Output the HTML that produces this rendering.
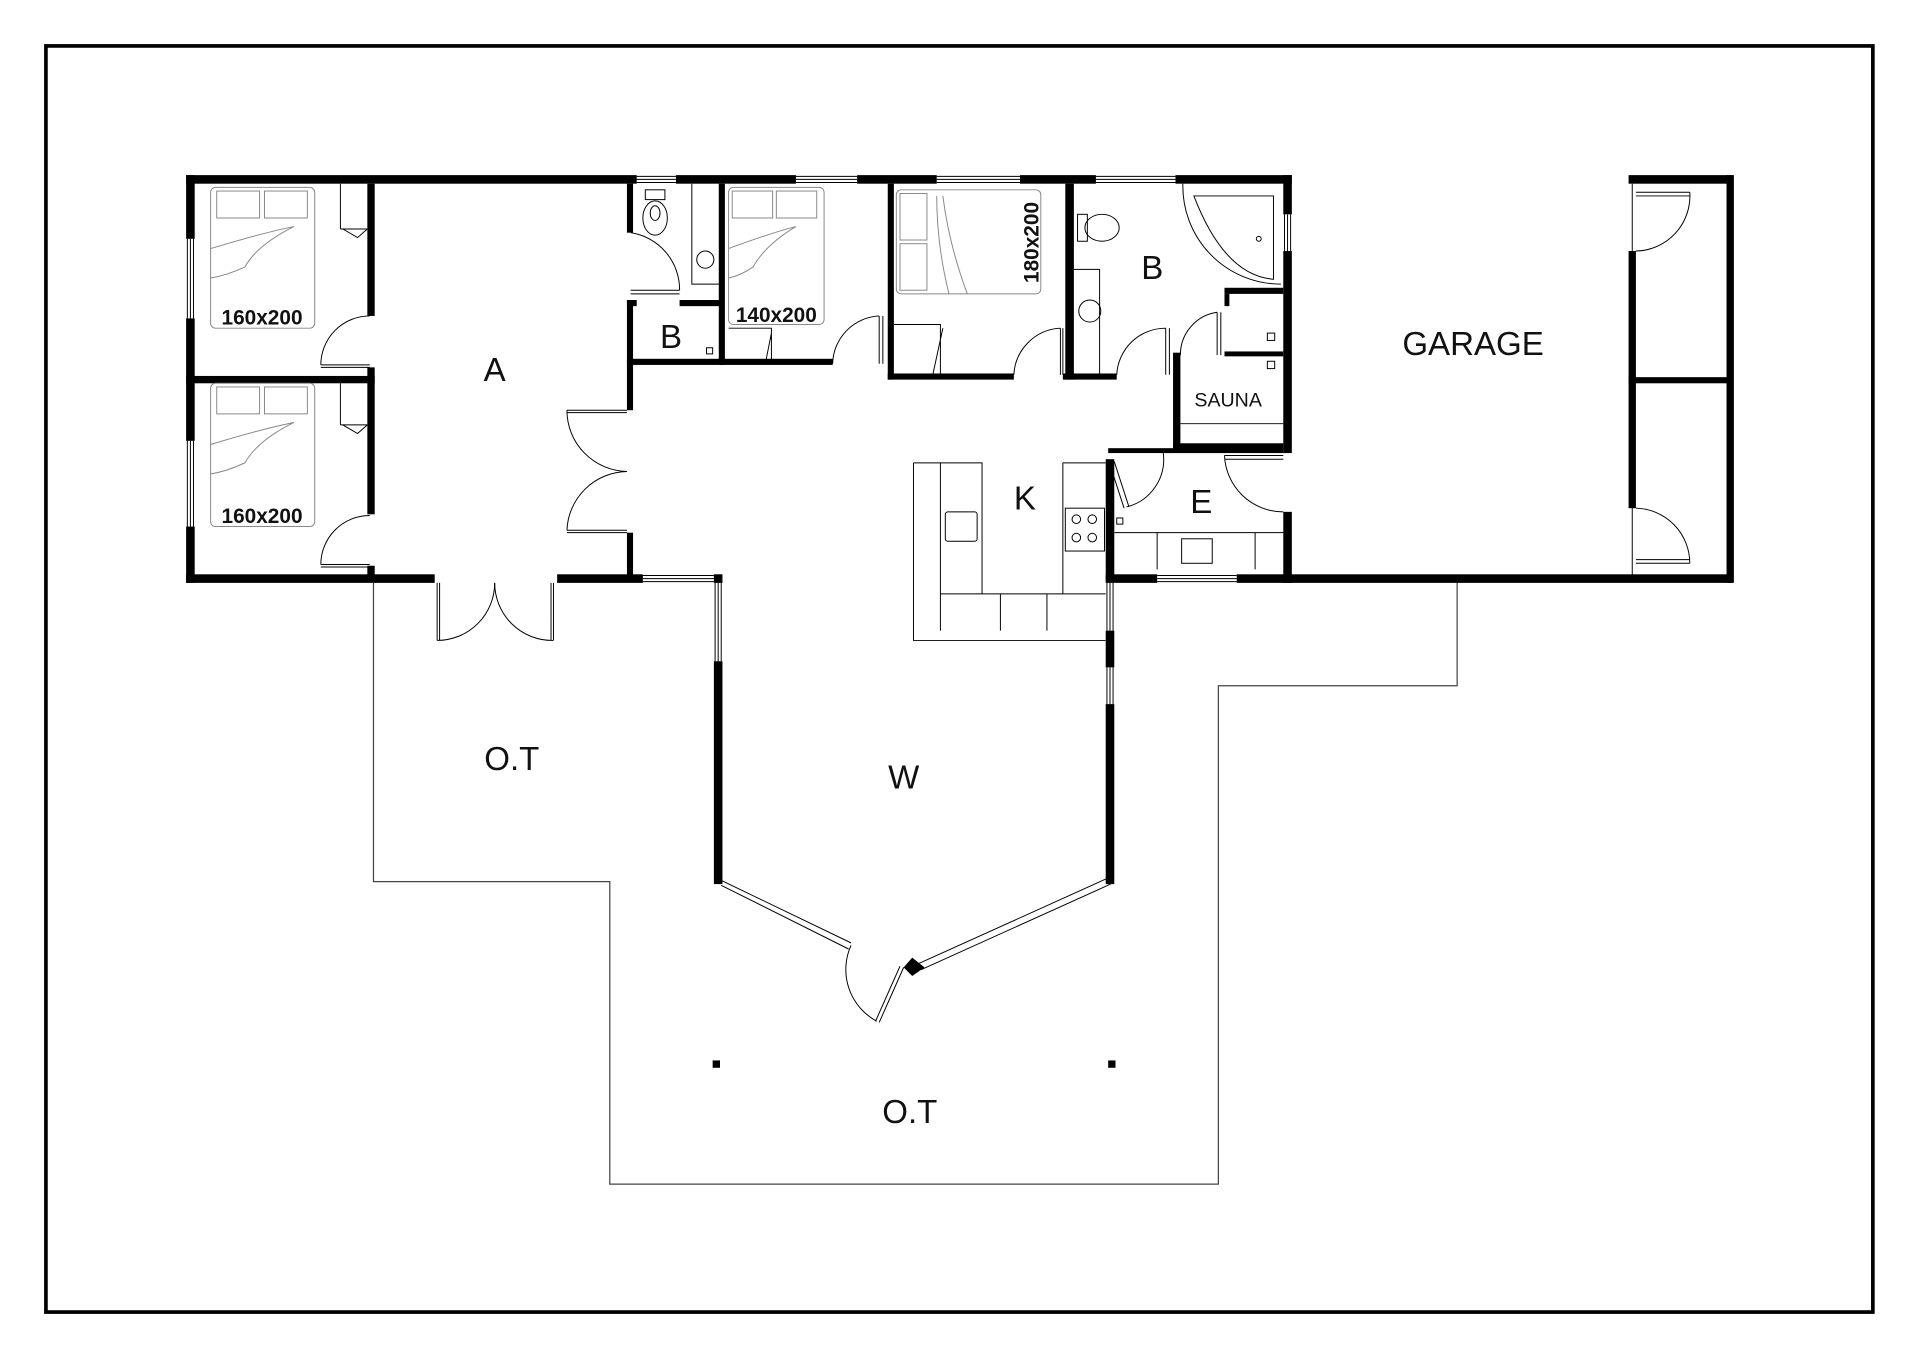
<!DOCTYPE html>
<html><head><meta charset="utf-8"><style>
html,body{margin:0;padding:0;background:#fff}
svg{display:block}
text{font-family:"Liberation Sans","DejaVu Sans",sans-serif;fill:#111}
</style></head><body>
<svg width="1920" height="1358" viewBox="0 0 1568 1109" xmlns="http://www.w3.org/2000/svg">
<rect x="0" y="0" width="1568" height="1109" fill="#fff"/>
<rect x="37.5" y="37.5" width="1492" height="1034" fill="none" stroke="#000" stroke-width="3"/>

<!-- terrace outline -->
<polyline points="305,476 305,720 498,720 498,967 995,967 995,560 1190,560 1190,476" fill="none" stroke="#444" stroke-width="1"/>

<g fill="#000">
<!-- top wall segments -->
<rect x="152" y="143" width="368" height="7"/>
<rect x="552" y="143" width="98" height="7"/>
<rect x="700" y="143" width="65" height="7"/>
<rect x="833" y="143" width="62" height="7"/>
<rect x="960" y="143" width="95" height="7"/>
<!-- left wall -->
<rect x="152" y="143" width="7" height="52"/>
<rect x="152" y="260" width="7" height="100"/>
<rect x="152" y="430" width="7" height="46"/>
<!-- bottom wall -->
<rect x="152" y="469" width="203" height="7"/>
<rect x="455" y="469" width="70" height="7"/>
<rect x="583" y="469" width="7" height="7"/>
<rect x="903" y="469" width="42" height="7"/>
<rect x="1010" y="469" width="405" height="7"/>
<!-- bedroom divider walls -->
<rect x="300" y="150" width="6" height="108"/>
<rect x="300" y="300" width="6" height="120"/>
<rect x="300" y="462" width="6" height="10"/>
<rect x="152" y="307" width="154" height="6"/>
<!-- A right wall -->
<rect x="512" y="150" width="5" height="40"/>
<rect x="512" y="245" width="5" height="90"/>
<rect x="512" y="435" width="5" height="36"/>
<!-- small bath / B -->
<rect x="512" y="245" width="8" height="5"/>
<rect x="555" y="245" width="35" height="5"/>
<rect x="587" y="150" width="5" height="148"/>
<rect x="512" y="293" width="168" height="5"/>
<!-- 180 bedroom -->
<rect x="725" y="150" width="5" height="160"/>
<rect x="725" y="305" width="103" height="5"/>
<rect x="870" y="150" width="7" height="160"/>
<rect x="868" y="305" width="44" height="5"/>
<!-- sauna -->
<rect x="958" y="288" width="6" height="78"/>
<rect x="1000" y="235" width="48" height="5"/>
<rect x="1000" y="240" width="4" height="10"/>
<rect x="1000" y="287" width="48" height="4"/>
<rect x="958" y="362" width="90" height="5"/>
<rect x="905" y="366" width="143" height="4"/>
<!-- house right wall -->
<rect x="1048" y="143" width="7" height="32"/>
<rect x="1048" y="205" width="7" height="165"/>
<rect x="1048" y="418" width="7" height="58"/>
<!-- kitchen wall -->
<rect x="903" y="375" width="7" height="100"/>
<!-- W walls -->
<rect x="583" y="540" width="7" height="182"/>
<rect x="903" y="515" width="7" height="30"/>
<rect x="903" y="575" width="7" height="147"/>
<polygon points="738,790 745,782 755,790 745,797"/>
<!-- garage -->
<rect x="1330" y="143" width="85" height="7"/>
<rect x="1330" y="205" width="6" height="210"/>
<rect x="1410" y="143" width="6" height="333"/>
<rect x="1330" y="308" width="85" height="5"/>
<rect x="582" y="866" width="6" height="6"/>
<rect x="905" y="866" width="6" height="6"/>
</g>

<g fill="none" stroke="#000" stroke-width="0.8">
<!-- windows top -->
<path d="M520 144H552M520 146.5H552M520 149H552"/>
<path d="M650 144H700M650 146.5H700M650 149H700"/>
<path d="M765 144H833M765 146.5H833M765 149H833"/>
<path d="M895 144H960M895 146.5H960M895 149H960"/>
<path d="M153 195V260M155.5 195V260M158 195V260"/>
<path d="M153 360V430M155.5 360V430M158 360V430"/>
<path d="M1049 175V205M1051.5 175V205M1054 175V205"/>
<path d="M525 470H583M525 472.5H583M525 475H583"/>
<path d="M945 470H1010M945 472.5H1010M945 475H1010"/>
<path d="M584 476V540M586.5 476V540M589 476V540"/>
<path d="M904 476V515M906.5 476V515M909 476V515"/>
<path d="M904 545V575M906.5 545V575M909 545V575"/>
<path d="M587 718L695 770M589 723L693 775"/>
<path d="M750 787L905 717M752 792L907 722"/>
<!-- W door -->
<path d="M738 790L718 835M735 789L715 834"/>
<path d="M695 772A48 48 0 0 0 716 834"/>
<!-- bedroom doors -->
<path d="M262 300H302M262 298H302M262 298A40 40 0 0 1 302 258"/>
<path d="M262 463H302M262 461H302M262 461A40 40 0 0 1 302 421"/>
<!-- A double doors -->
<path d="M463 335H512M463 337H512M463 335A50 50 0 0 0 512 385"/>
<path d="M463 435H512M463 433H512M463 433A50 50 0 0 1 512 385"/>
<!-- french doors -->
<path d="M357 476V523M359 476V523M357 523A47 47 0 0 0 404 476"/>
<path d="M450 476V523M452 476V523M452 523A47 47 0 0 1 404 476"/>
<!-- small bath door -->
<path d="M515 190A47 47 0 0 1 555 237M515 237H555M515 240H555"/>
<!-- 140 door -->
<path d="M718 258V297M721 258V297M680 297A40 40 0 0 1 718 258"/>
<!-- 180 door -->
<path d="M866 268V306M868 268V306M828 306A40 40 0 0 1 866 268"/>
<!-- bath door -->
<path d="M952 268V306M955 268V306M912 306A40 40 0 0 1 952 268"/>
<!-- sauna door -->
<path d="M994 255V290M997 255V290M964 290A35 35 0 0 1 994 255"/>
<!-- E doors -->
<path d="M906 378L918 415M910 377L922 414M920 414A40 40 0 0 0 950 370"/>
<path d="M1000 372H1048M1000 375H1048M1000 372A48 48 0 0 0 1048 418"/>
<!-- garage doors -->
<path d="M1336 157H1380M1336 160H1380M1380 157A45 45 0 0 1 1336 205M1333 150V205"/>
<path d="M1336 460H1380M1336 457H1380M1380 460A45 45 0 0 0 1336 415M1333 415V470"/>
</g>

<g fill="none" stroke="#888" stroke-width="0.8">
<!-- beds -->
<rect x="172" y="153" width="85" height="115" rx="4"/>
<rect x="177" y="156" width="35" height="22"/><rect x="216" y="156" width="35" height="22"/>
<path d="M172 203Q215 190 240 185Q210 200 200 218 Q185 225 172 227"/>
<rect x="172" y="313" width="85" height="117" rx="4"/>
<rect x="177" y="316" width="35" height="22"/><rect x="216" y="316" width="35" height="22"/>
<path d="M172 363Q215 350 240 345Q210 360 200 378 Q185 385 172 387"/>
<rect x="595" y="153" width="78" height="112" rx="4"/>
<rect x="598" y="156" width="33" height="22"/><rect x="634" y="156" width="33" height="22"/>
<path d="M595 203Q630 190 650 185Q625 200 615 218Q605 225 595 227"/>
<rect x="732" y="155" width="118" height="85" rx="4"/>
<rect x="735" y="158" width="22" height="38"/><rect x="735" y="199" width="22" height="38"/>
<path d="M770 160Q775 200 790 240M765 160Q765 200 775 240"/>
</g>

<g fill="none" stroke="#000" stroke-width="0.8">
<!-- closets -->
<path d="M278 150V187M278 187H300M280 187L292 194L300 187"/>
<path d="M278 313V347M278 347H300M280 347L292 354L300 347"/>
<path d="M595 268H630V297M630 272L625 297"/>
<path d="M730 265H768V305M770 268L762 305"/>
<!-- toilets, sinks -->
<rect x="527" y="155" width="16" height="8"/>
<ellipse cx="535" cy="178" rx="10" ry="14"/>
<ellipse cx="535" cy="174" rx="4" ry="6"/>
<path d="M565 150V232H587"/>
<circle cx="576" cy="212" r="7"/>
<rect x="577" y="284" width="5" height="5"/>
<rect x="880" y="175" width="8" height="22"/>
<ellipse cx="900" cy="186" rx="14" ry="11"/>
<path d="M877 220H898V305"/>
<circle cx="890" cy="254" r="9"/>
<!-- tub -->
<path d="M966 150A80 80 0 0 0 1046 232"/>
<path d="M975 160H1040V228Q1000 225 975 160Z"/>
<circle cx="1028" cy="195" r="2"/>
<rect x="1035" y="272" width="6" height="6"/>
<rect x="1035" y="295" width="6" height="6"/>
<path d="M964 346H1048"/>
<!-- kitchen -->
<path d="M746 378V523H903"/>
<path d="M746 378H802V485M768 378V515M768 485H903M868 378H903M868 378V485M817 485V515M855 485V515"/>
<rect x="772" y="418" width="26" height="24" rx="2"/>
<rect x="870" y="415" width="32" height="35"/>
<circle cx="879" cy="424" r="3.5"/><circle cx="892" cy="424" r="3.5"/>
<circle cx="879" cy="439" r="3.5"/><circle cx="892" cy="439" r="3.5"/>
<!-- E counter -->
<path d="M910 435H1048M945 435V465M1025 435V465"/>
<rect x="965" y="440" width="25" height="20"/>
<rect x="912" y="423" width="5" height="5"/>
</g>

<g font-size="17" font-weight="bold" text-anchor="middle">
<text x="214" y="265">160x200</text>
<text x="214" y="427">160x200</text>
<text x="634" y="263">140x200</text>
<text transform="translate(848,198) rotate(-90)">180x200</text>
</g>
<g font-size="27" text-anchor="middle">
<text x="404" y="311">A</text>
<text x="548" y="284">B</text>
<text x="941" y="228">B</text>
<text x="837" y="416">K</text>
<text x="981" y="419">E</text>
<text x="738" y="644">W</text>
<text x="418" y="629">O.T</text>
<text x="743" y="917">O.T</text>
<text x="1203" y="290">GARAGE</text>
</g>
<text x="1003" y="332" font-size="16" text-anchor="middle">SAUNA</text>
</svg>
</body></html>
